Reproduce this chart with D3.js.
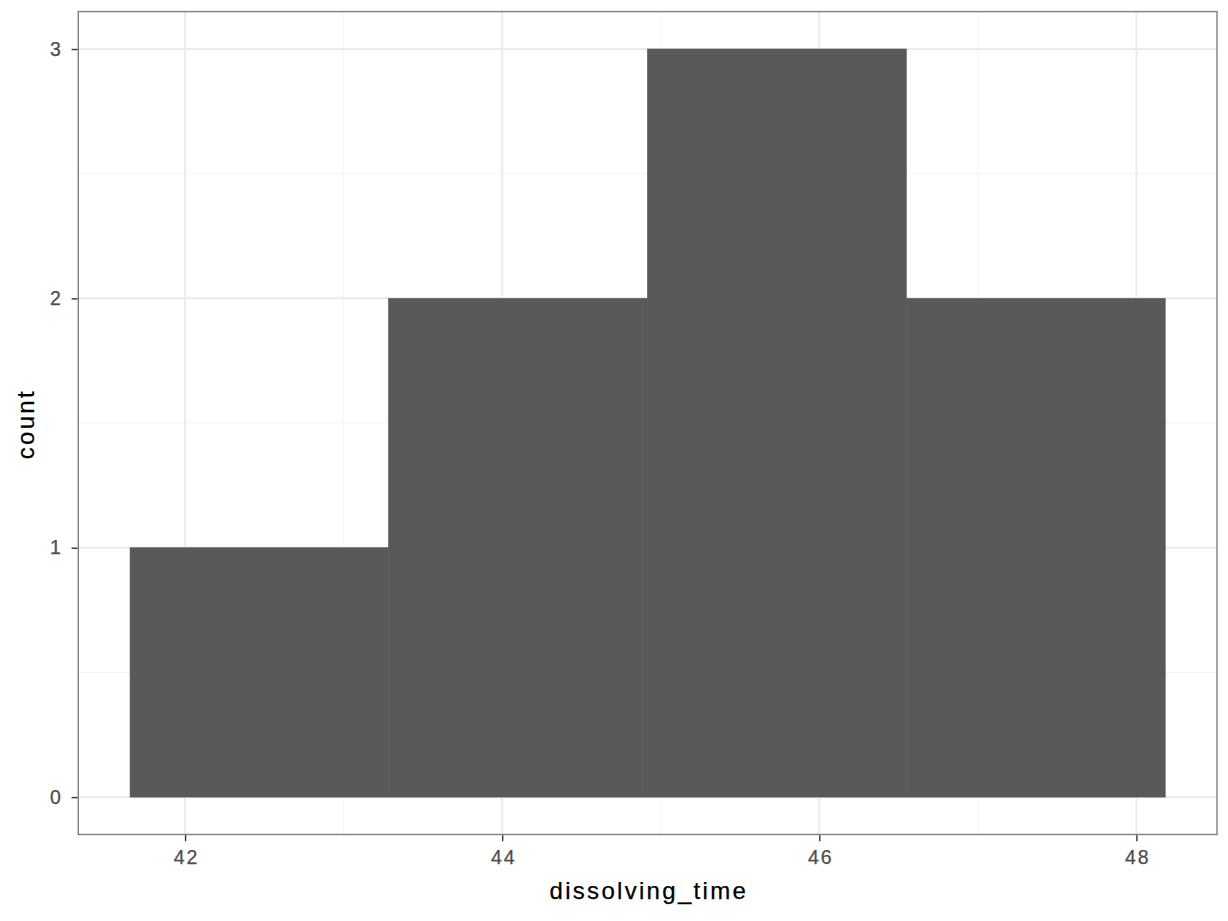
<!DOCTYPE html>
<html>
<head>
<meta charset="utf-8">
<script src="https://cdn.jsdelivr.net/npm/d3@7"></script>
<style>
  html, body { margin: 0; padding: 0; background: #fff; }
  svg { display: block; }
  svg text { font-family: "Liberation Sans", Arial, Helvetica, sans-serif; }
  text.ticklab { font-size: 19.5px; letter-spacing: 1.9px; fill: #4d4d4d; stroke: #4d4d4d; stroke-width: 0.25px; }
  text.axtitle { font-size: 24px; letter-spacing: 2.3px; fill: #000; stroke: #000; stroke-width: 0.25px; }
</style>
</head>
<body>
<script>
// Histogram bins
const binStarts = [41.653, 43.283, 44.916, 46.549];
const binEnds   = [43.283, 44.916, 46.549, 48.182];
const counts    = [1, 2, 3, 2];
const xTicks = [42, 44, 46, 48];
const xMinor = [43, 45, 47];
const yTicks = [0, 1, 2, 3];
const yMinor = [0.5, 1.5, 2.5];
const xTitle = "dissolving_time";
const yTitle = "count";

const W = 1228, H = 921;
const panel = { left: 78.3, right: 1217, top: 11.6, bottom: 834.5 };

const svg = d3.select("body").append("svg").attr("width", W).attr("height", H);

const xmin = d3.min(binStarts), xmax = d3.max(binEnds);
const xpad = (xmax - xmin) * 0.05;
const x = d3.scaleLinear().domain([xmin - xpad, xmax + xpad]).range([panel.left, panel.right]);
const ymax = d3.max(counts);
const ypad = ymax * 0.05;
const y = d3.scaleLinear().domain([-ypad, ymax + ypad]).range([panel.bottom, panel.top]);

const g = svg.append("g");
g.append("rect").attr("x", panel.left).attr("y", panel.top)
  .attr("width", panel.right - panel.left).attr("height", panel.bottom - panel.top)
  .attr("fill", "#fff");

// minor grid
g.selectAll(".xminor").data(xMinor).join("line")
  .attr("x1", d => x(d)).attr("x2", d => x(d)).attr("y1", panel.top).attr("y2", panel.bottom)
  .attr("stroke", "#f5f5f5").attr("stroke-width", 1);
g.selectAll(".yminor").data(yMinor).join("line")
  .attr("y1", d => y(d)).attr("y2", d => y(d)).attr("x1", panel.left).attr("x2", panel.right)
  .attr("stroke", "#f5f5f5").attr("stroke-width", 1);
// major grid
g.selectAll(".xmajor").data(xTicks).join("line")
  .attr("x1", d => x(d)).attr("x2", d => x(d)).attr("y1", panel.top).attr("y2", panel.bottom)
  .attr("stroke", "#ebebeb").attr("stroke-width", 2);
g.selectAll(".ymajor").data(yTicks).join("line")
  .attr("y1", d => y(d)).attr("y2", d => y(d)).attr("x1", panel.left).attr("x2", panel.right)
  .attr("stroke", "#ebebeb").attr("stroke-width", 2);

// bars
const bins = counts.map((c, i) => ({ x0: binStarts[i], x1: binEnds[i], c }));
g.selectAll(".bar").data(bins).join("rect")
  .attr("x", d => x(d.x0)).attr("width", d => x(d.x1) - x(d.x0))
  .attr("y", d => y(d.c)).attr("height", d => y(0) - y(d.c))
  .attr("fill", "#595959").attr("stroke", "#595959").attr("stroke-width", 0.6);

// border
g.append("rect").attr("x", panel.left).attr("y", panel.top)
  .attr("width", panel.right - panel.left).attr("height", panel.bottom - panel.top)
  .attr("fill", "none").attr("stroke", "#7f7f7f").attr("stroke-width", 1.4);

// axes
const xAxis = d3.axisBottom(x).tickValues(xTicks).tickSize(6).tickPadding(9.2).tickFormat(d3.format("d"));
const xa = svg.append("g").attr("transform", `translate(0,${panel.bottom + 0.7})`).call(xAxis);
const yAxis = d3.axisLeft(y).tickValues(yTicks).tickSize(6).tickPadding(8.8).tickFormat(d3.format("d"));
const ya = svg.append("g").attr("transform", `translate(${panel.left - 0.7},0)`).call(yAxis);
[xa, ya].forEach(a => {
  a.attr("font-size", null).attr("font-family", null);
  a.select(".domain").remove();
  a.selectAll(".tick line").attr("stroke", "#333").attr("stroke-width", 1.4);
  a.selectAll(".tick text").attr("class", "ticklab").attr("fill", null);
});
xa.selectAll(".tick text").attr("dx", "0.95px");

svg.append("text").attr("class", "axtitle").attr("x", (panel.left + panel.right) / 2 + 1.15).attr("y", 899)
  .attr("text-anchor", "middle").text(xTitle);
svg.append("text").attr("class", "axtitle").attr("transform", `translate(34,${(panel.top + panel.bottom) / 2 + 1.15}) rotate(-90)`)
  .attr("text-anchor", "middle").text(yTitle);
</script>
</body>
</html>
